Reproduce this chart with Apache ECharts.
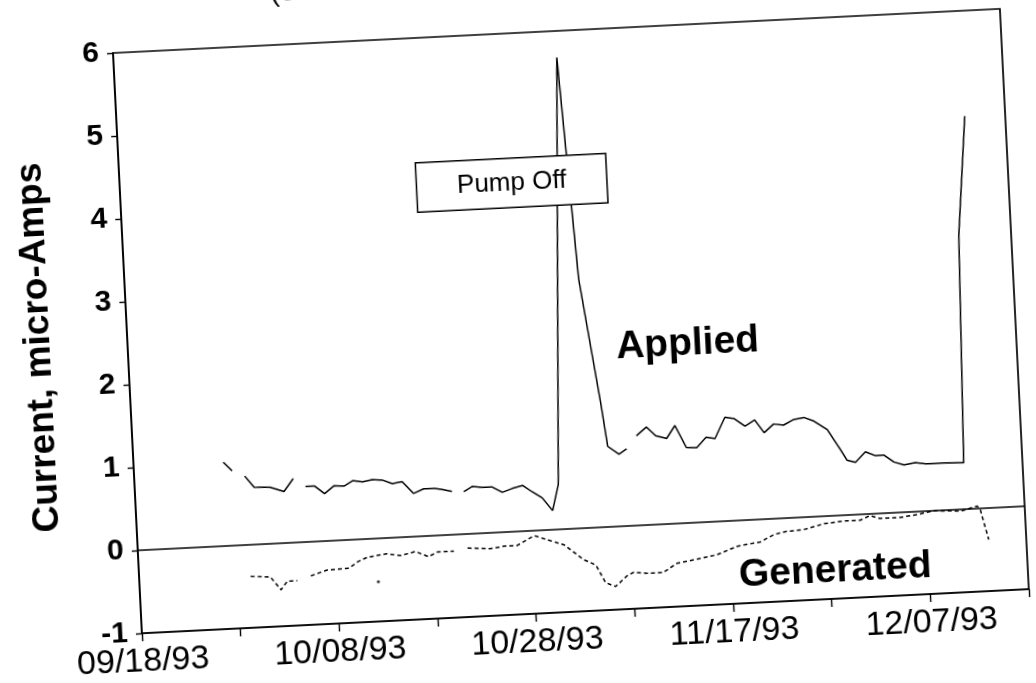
<!DOCTYPE html>
<html>
<head>
<meta charset="UTF-8">
<title>Current</title>
<script src="https://cdn.jsdelivr.net/npm/echarts@6/dist/echarts.min.js"></script>
<style type="text/css">
    html,body{
        margin:0;
        width:100%;
        height:100%;
        overflow:hidden;
        background:#fff;
    }
    #container{
        position:absolute;
        left:-50px;
        top:-80px;
        width:1150px;
        height:780px;
        transform-origin:163px 133px;
        transform:rotate(-2.85deg);
    }
</style>
</head>
<body>
<div id="container"></div>
<script type="text/javascript">
	// days after 09/18/93, null = no reading
	var appliedDays = [9.1, 9.95, 10.5, 11.2, 12.1, 13.7, 15.1, 16.1, 16.7, 17.3, 18.2, 19.2, 20.2, 21.2, 22.1, 23.1, 24.1, 25.1, 26.1, 27.1,
		28.2, 29.25, 30.3, 31.1, 32.1, 32.7, 33.3, 34.2, 35.2, 36.2, 37.2, 38.2, 39.3, 40.2, 41.2, 42.2, 42.9, 44.9, 46.0,
		47.6, 48.1, 49.2, 50.0, 50.5, 51.05, 52.1, 53.0, 54.1, 55.0, 56.05, 57.1, 58.1, 59.0, 60.1, 61.0, 62.1, 63.1, 64.0,
		65.0, 66.0, 67.0, 68.1, 69.1, 70.4, 71.6, 72.25, 73.1, 74.15, 75.1, 76.0, 77.0, 78.0, 79.15, 80.2, 82.0, 84.05, 84.7, 85.9];
	var appliedVals = [1.01, 0.90, null, 0.83, 0.69, 0.68, 0.62, 0.77, null, 0.67, 0.67, 0.57, 0.66, 0.65, 0.71, 0.69, 0.71, 0.70, 0.65, 0.67,
		0.52, 0.57, 0.57, 0.55, 0.52, null, 0.51, 0.57, 0.55, 0.55, 0.48, 0.52, 0.55, 0.47, 0.39, 0.23, 0.54, 5.68, 3.0,
		1.50, 0.97, 0.87, 0.93, null, 1.08, 1.18, 1.07, 1.03, 1.18, 0.91, 0.90, 1.02, 1.00, 1.25, 1.23, 1.13, 1.20, 1.04,
		1.14, 1.12, 1.18, 1.20, 1.15, 1.04, 0.80, 0.66, 0.63, 0.75, 0.70, 0.70, 0.61, 0.57, 0.59, 0.57, 0.57, 0.56, 3.3, 4.73];

	var generatedDays = [11.3, 13.3, 14.3, 15.0, 16.0, 16.7, 17.4, 19.1, 21.3, 22.2, 23.2, 25.2, 26.6, 28.1, 29.4, 30.3, 32.0, 32.7,
		33.4, 35.7, 37.1, 38.4, 40.2, 41.8, 43.2, 45.1, 46.3, 47.2, 48.2, 49.4, 50.1, 51.4, 53.1, 54.5, 56.6, 58.6, 60.7,
		63.1, 64.5, 65.8, 67.5, 69.6, 71.6, 73.3, 74.3, 75.3, 77.4, 79.4, 80.8, 83.5, 85.2, 85.5, 86.2];
	var generatedVals = [-0.38, -0.40, -0.56, -0.46, -0.46, null, -0.41, -0.35, -0.34, -0.27, -0.22, -0.19, -0.22, -0.18, -0.25, -0.20, -0.20, null,
		-0.17, -0.19, -0.17, -0.17, -0.06, -0.13, -0.19, -0.38, -0.45, -0.67, -0.72, -0.60, -0.56, -0.58, -0.58, -0.48, -0.44, -0.40, -0.31,
		-0.27, -0.19, -0.16, -0.15, -0.09, -0.07, -0.07, -0.02, -0.06, -0.06, -0.03, 0.0, -0.02, 0.03, -0.02, -0.38];
	// lone generated reading
	var strayDays = [24.2];
	var strayVals = [-0.52];

	var tickDays = [0, 20, 40, 60, 80];
	var tickLabels = ['09/18/93', '10/08/93', '10/28/93', '11/17/93', '12/07/93'];

	function pairs(days, vals) {
		return days.map(function (d, i) {
			return [d, vals[i] === null ? '-' : vals[i]];
		});
	}

	var font = '"Liberation Sans", Arial, sans-serif';
	var chart = echarts.init(document.getElementById('container'));
	var option = {
		animation: false,
		title: {
			text: '(Sta',
			left: 318,
			top: 62,
			textStyle: { fontFamily: font, fontSize: 28, fontWeight: 'normal', color: '#000' }
		},
		grid: {
			left: 163,
			top: 133,
			width: 888,
			height: 581,
			show: true,
			borderColor: '#000',
			borderWidth: 1.7
		},
		xAxis: {
			type: 'value',
			min: 0,
			max: 90,
			interval: 10,
			splitLine: { show: false },
			axisLine: { onZero: false, lineStyle: { color: '#000', width: 1.7 } },
			axisTick: { length: 8, lineStyle: { color: '#000', width: 1.4 } },
			axisLabel: {
				margin: 12,
				color: '#000',
				fontFamily: font,
				fontSize: 34,
				formatter: function (v) {
					var i = tickDays.indexOf(v);
					return i >= 0 ? tickLabels[i] : '';
				}
			}
		},
		yAxis: {
			type: 'value',
			min: -1,
			max: 6,
			interval: 1,
			name: 'Current, micro-Amps',
			nameLocation: 'middle',
			nameRotate: 90,
			nameGap: 70,
			nameTextStyle: { fontFamily: font, fontSize: 37, fontWeight: 'bold', color: '#000' },
			splitLine: { show: false },
			axisLine: { show: true, onZero: false, lineStyle: { color: '#000', width: 1.7 } },
			axisTick: { show: true, length: 6, lineStyle: { color: '#000', width: 1.4 } },
			axisLabel: { margin: 14, color: '#000', fontFamily: font, fontSize: 30, fontWeight: 'bold' }
		},
		series: [{
			name: 'Applied',
			type: 'line',
			data: pairs(appliedDays, appliedVals),
			showSymbol: false,
			connectNulls: false,
			lineStyle: { color: '#000', width: 1.5 },
			markLine: {
				silent: true,
				symbol: 'none',
				label: { show: false },
				lineStyle: { color: '#000', width: 1.7, type: 'solid' },
				data: [{ yAxis: 0 }]
			},
			markPoint: {
				silent: true,
				data: [{
					coord: [39.7, 4.2],
					symbolSize: 0,
					label: {
						show: true, position: 'inside', formatter: 'Pump Off',
						color: '#000', fontFamily: font, fontSize: 26,
						backgroundColor: '#fff', borderColor: '#000', borderWidth: 1.5,
						width: 189, height: 48, lineHeight: 48, align: 'center', verticalAlign: 'middle'
					}
				}, {
					coord: [56.7, 2.15],
					symbolSize: 0,
					label: { show: true, position: 'inside', formatter: 'Applied', color: '#000', fontFamily: font, fontSize: 39, fontWeight: 'bold' }
				}]
			}
		}, {
			name: 'Generated',
			type: 'line',
			data: pairs(generatedDays, generatedVals),
			showSymbol: false,
			connectNulls: false,
			lineStyle: { color: '#000', width: 1.5, type: [4, 3] },
			markPoint: {
				silent: true,
				data: [{
					coord: [70.5, -0.66],
					symbolSize: 0,
					label: { show: true, position: 'inside', formatter: 'Generated', color: '#000', fontFamily: font, fontSize: 39, fontWeight: 'bold' }
				}]
			}
		}, {
			name: 'Generated (single)',
			type: 'scatter',
			data: pairs(strayDays, strayVals),
			symbolSize: 3,
			itemStyle: { color: '#000' }
		}]
	};
	chart.setOption(option);
</script>
</body>
</html>
